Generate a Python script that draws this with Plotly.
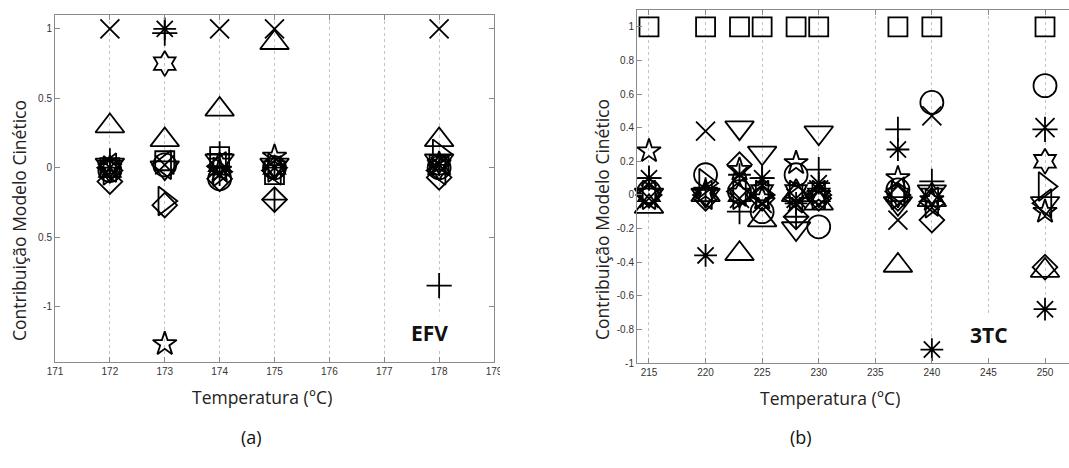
import plotly.graph_objects as go

# ---------------- data ----------------
symbols = ["x-thin-open", "asterisk-open", "cross-thin-open", "hexagram-open", "star-open",
           "triangle-up-open", "triangle-down-open", "triangle-right-open", "triangle-left-open",
           "diamond-open", "square-open", "circle-open"]
marker_sizes = [19, 19, 18, 19, 18, 25, 25, 25, 25, 19, 19, 23]

# Panel (a) – EFV
temps_a = [172, 173, 174, 175, 178]
vals_a = {
    "x-thin-open":         [1.00, 0.02, 1.00, 1.00, 1.00],
    "asterisk-open":       [0.00, 1.00, -0.05, 0.00, 0.02],
    "cross-thin-open":     [0.05, 0.97, 0.10, -0.23, -0.85],
    "hexagram-open":       [-0.02, 0.75, 0.02, 0.00, 0.00],
    "star-open":           [0.00, -1.27, -0.02, 0.08, 0.03],
    "triangle-up-open":    [0.30, 0.20, 0.42, 0.90, 0.20],
    "triangle-down-open":  [0.02, 0.00, 0.05, 0.02, 0.05],
    "triangle-right-open": [-0.02, -0.24, -0.03, 0.00, 0.10],
    "triangle-left-open":  [0.00, 0.02, 0.01, -0.02, -0.02],
    "diamond-open":        [-0.10, -0.27, -0.08, -0.23, -0.07],
    "square-open":         [0.00, 0.05, 0.08, -0.05, 0.02],
    "circle-open":         [-0.02, 0.02, -0.08, 0.00, 0.00],
}

# Panel (b) – 3TC
temps_b = [215, 220, 223, 225, 228, 230, 237, 240, 250]
vals_b = {
    "x-thin-open":         [-0.02, 0.38, -0.02, -0.05, -0.02, 0.03, -0.15, 0.47, 0.40],
    "asterisk-open":       [0.10, -0.36, 0.12, 0.10, -0.05, 0.07, 0.27, -0.92, -0.68],
    "cross-thin-open":     [0.10, 0.03, -0.10, 0.10, -0.13, 0.15, 0.39, 0.08, 0.39],
    "hexagram-open":       [0.00, 0.00, 0.00, 0.02, 0.02, 0.00, 0.00, 0.00, 0.20],
    "star-open":           [0.26, 0.02, 0.15, -0.02, 0.19, 0.00, 0.10, -0.03, -0.10],
    "triangle-up-open":    [-0.07, 0.00, -0.35, -0.15, 0.00, -0.05, -0.42, -0.03, -0.45],
    "triangle-down-open":  [0.00, 0.00, 0.40, 0.25, -0.20, 0.37, -0.05, 0.02, -0.05],
    "triangle-right-open": [0.00, 0.07, 0.00, 0.00, 0.00, 0.00, 0.00, -0.05, 0.05],
    "triangle-left-open":  [0.00, 0.00, 0.02, 0.00, -0.02, 0.00, 0.02, -0.04, -0.05],
    "diamond-open":        [0.00, -0.02, 0.18, -0.02, -0.13, -0.02, -0.02, -0.15, -0.43],
    "square-open":         [1.00, 1.00, 1.00, 1.00, 1.00, 1.00, 1.00, 1.00, 1.00],
    "circle-open":         [0.02, 0.12, 0.02, -0.10, 0.12, -0.19, 0.03, 0.55, 0.65],
}

a_xticks = [171, 172, 173, 174, 175, 176, 177, 178, 179]
a_xticklabels = ["171", "172", "173", "174", "175", "176", "177", "178", "179"]
a_yticks = [1, 0.5, 0, -0.5, -1]
a_yticklabels = ["1", "0.5", "0", "0.5", "-1"]
b_xticks = [215, 220, 225, 230, 235, 240, 245, 250]
b_yticks = [1, 0.8, 0.6, 0.4, 0.2, 0, -0.2, -0.4, -0.6, -0.8, -1]
b_yticklabels = ["1", "0.8", "0.6", "0.4", "0.2", "0", "-0.2", "-0.4", "-0.6", "-0.8", "-1"]

ylabel = "Contribuição Modelo Cinético"
xlabel = "Temperatura (°C)"

# ---------------- figure ----------------
fig = go.Figure()
for sym, sz in zip(symbols, marker_sizes):
    fig.add_trace(go.Scatter(x=temps_a, y=vals_a[sym], mode="markers", xaxis="x", yaxis="y",
                             marker=dict(symbol=sym, size=sz, color="black",
                                         line=dict(color="black", width=1.8)),
                             showlegend=False, cliponaxis=False))
    fig.add_trace(go.Scatter(x=temps_b, y=vals_b[sym], mode="markers", xaxis="x2", yaxis="y2",
                             marker=dict(symbol=sym, size=sz, color="black",
                                         line=dict(color="black", width=1.8)),
                             showlegend=False, cliponaxis=False))

W, H = 1069, 468
def px(x):
    return x / W
def py(y):
    return 1 - y / H

tickfont = dict(family="Liberation Sans, Arial, sans-serif", size=10, color="#333")
axcommon = dict(showline=True, linecolor="#8a8a8a", linewidth=1, ticks="inside", ticklen=5,
                tickcolor="#8a8a8a", tickfont=tickfont, zeroline=False, automargin=False)
gridcommon = dict(showgrid=True, gridcolor="#c4c4c4", griddash="dot", gridwidth=1)

fig.update_layout(
    width=W, height=H, margin=dict(l=0, r=0, t=0, b=0, autoexpand=False),
    paper_bgcolor="white", plot_bgcolor="white",
    xaxis=dict(domain=[px(55), px(494)], range=[171, 179], tickmode="array",
               tickvals=a_xticks, ticktext=a_xticklabels, mirror="ticks", anchor="y",
               **gridcommon, **axcommon),
    yaxis=dict(domain=[py(362), py(15)], range=[-1.4, 1.1], tickmode="array",
               tickvals=a_yticks, ticktext=a_yticklabels, mirror="ticks",
               showgrid=False, anchor="x", **axcommon),
    xaxis2=dict(domain=[px(637), 1.0], range=[213.94, 252.12], tickmode="array",
                tickvals=b_xticks, mirror="ticks", anchor="y2",
                **gridcommon, **axcommon),
    yaxis2=dict(domain=[py(363), py(10)], range=[-1.0, 1.1], tickmode="array",
                tickvals=b_yticks, ticktext=b_yticklabels, mirror=False,
                showgrid=False, anchor="x2", **axcommon),
)

titlefont = dict(family="Open Sans, sans-serif", size=17.5, color="#222")
ann = [
    dict(x=px(262), y=py(397), text=xlabel, font=titlefont),
    dict(x=px(830), y=py(398), text=xlabel, font=titlefont),
    dict(x=px(19), y=py(221), text=ylabel, font=titlefont, textangle=-90),
    dict(x=px(602), y=py(220), text=ylabel, font=titlefont, textangle=-90),
    dict(x=px(251), y=py(437), text="(a)", font=dict(family="Open Sans, sans-serif", size=18, color="#111")),
    dict(x=px(801), y=py(437), text="(b)", font=dict(family="Open Sans, sans-serif", size=18, color="#111")),
    dict(x=px(429), y=py(333), text="<b>EFV</b>", bgcolor="white", borderpad=3,
         font=dict(family="Open Sans, sans-serif", size=21, color="#111")),
    dict(x=px(989), y=py(335), text="<b>3TC</b>",
         font=dict(family="Open Sans, sans-serif", size=21, color="#111")),
]
for a in ann:
    a.update(xref="paper", yref="paper", showarrow=False, xanchor="center", yanchor="middle")
fig.update_layout(annotations=ann)

# white label box behind "3TC" hides the grid there (above grid, below markers)
fig.add_shape(type="rect", xref="x2", yref="y2", x0=242.05, x1=251.5, y0=-0.995, y1=-0.72,
              fillcolor="white", line=dict(width=0), layer="between")

# the left picture is cropped just right of its frame
fig.add_shape(type="rect", xref="paper", yref="paper", x0=px(500), x1=px(560), y0=py(380), y1=py(330),
              fillcolor="white", line=dict(width=0), layer="above")

fig.write_html("out.html")
